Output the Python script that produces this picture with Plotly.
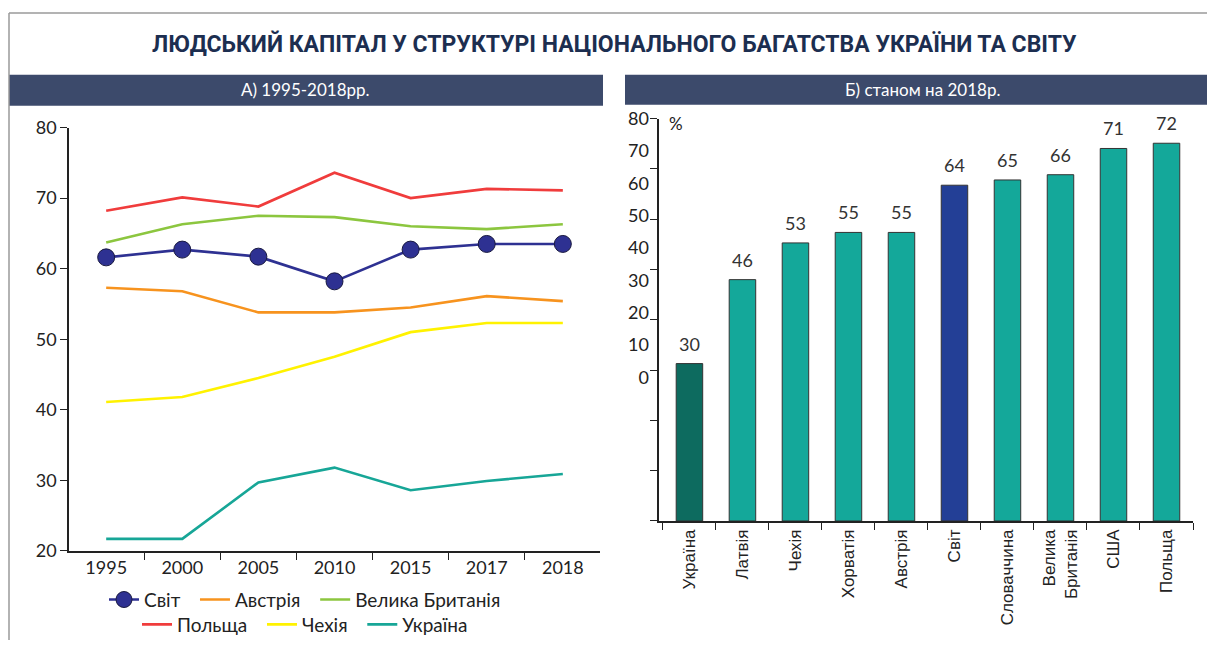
import plotly.graph_objects as go

# ---------------- data ----------------
years = ["1995", "2000", "2005", "2010", "2015", "2017", "2018"]
svit = [61.6, 62.7, 61.7, 58.2, 62.7, 63.5, 63.5]
austria = [57.3, 56.8, 53.8, 53.8, 54.5, 56.1, 55.4]
great_britain = [63.7, 66.3, 67.5, 67.3, 66.0, 65.6, 66.3]
poland = [68.2, 70.1, 68.8, 73.6, 70.0, 71.3, 71.1]
czechia = [41.1, 41.8, 44.5, 47.5, 51.0, 52.3, 52.3]
ukraine = [21.7, 21.7, 29.7, 31.8, 28.6, 29.9, 30.9]

countries = ["Україна", "Латвія", "Чехія", "Хорватія", "Австрія", "Світ",
             "Словаччина", "Велика<br>Британія", "США", "Польща"]
values_2018 = [30, 46, 53, 55, 55, 64, 65, 66, 71, 72]
right_tick_labels = ["0", "10", "20", "30", "40", "50", "60", "70", "80"]

# ---------------- style ----------------
W, H = 1207, 650
def fx(p):
    return p / W
def fy(p):
    # vertical position (target pixel) -> paper fraction, compensating capture offset
    q = (p - 10.0) / 0.97
    return min(1.0, max(0.0, 1 - q / H))

C_BAND = "#3C4A6B"
C_TITLE = "#1C2E50"
C_TEXT = "#222222"
TICK_FONT = dict(family="Lato, Open Sans, sans-serif", size=18, color=C_TEXT)
PAD = "\u00a0\u00a0"

fig = go.Figure()

series = [
    ("Польща" + PAD, poland, "#F03C3C", "legend2", 1),
    ("Велика Британія", great_britain, "#8CC63F", "legend", 3),
    ("Австрія" + PAD, austria, "#F7931E", "legend", 2),
    ("Чехія" + PAD, czechia, "#FFF200", "legend2", 2),
    ("Україна", ukraine, "#17A697", "legend2", 3),
]
for name, vals, col, leg, rank in series:
    fig.add_trace(go.Scatter(x=years, y=vals, name=name, mode="lines",
                             line=dict(color=col, width=2.6),
                             legend=leg, legendrank=rank,
                             xaxis="x", yaxis="y"))
fig.add_trace(go.Scatter(x=years, y=svit, name="Світ" + PAD, mode="lines+markers",
                         line=dict(color="#2E3192", width=2.6),
                         marker=dict(size=17, color="#2E3192",
                                     line=dict(color="#1A1A40", width=1)),
                         legend="legend", legendrank=1,
                         xaxis="x", yaxis="y"))

bar_colors = []
for c in countries:
    if c == "Україна":
        bar_colors.append("#0D6B5F")
    elif c == "Світ":
        bar_colors.append("#233F96")
    else:
        bar_colors.append("#14A89A")

fig.add_trace(go.Bar(x=countries, y=values_2018, marker=dict(color=bar_colors,
                     line=dict(color="#333333", width=1)),
                     width=0.5, showlegend=False, xaxis="x2", yaxis="y2"))
# invisible helper trace so that the label axis (y3) is drawn
fig.add_trace(go.Scatter(x=[countries[0]], y=[0], mode="markers",
                         marker=dict(opacity=0), showlegend=False,
                         hoverinfo="skip", xaxis="x2", yaxis="y3"))

annotations = []
for c, v in zip(countries, values_2018):
    annotations.append(dict(x=c, y=v, xref="x2", yref="y2", text=str(v),
                            showarrow=False, yanchor="bottom", yshift=7,
                            font=dict(family="Lato, sans-serif", size=18, color="#333333")))

# titles / headers
annotations.append(dict(x=fx(614), y=fy(42), xref="paper", yref="paper",
                        text="<b>ЛЮДСЬКИЙ КАПІТАЛ У СТРУКТУРІ НАЦІОНАЛЬНОГО БАГАТСТВА УКРАЇНИ ТА СВІТУ</b>",
                        showarrow=False, xanchor="center", yanchor="middle",
                        font=dict(family="Liberation Sans Narrow, Roboto, sans-serif", size=23, color=C_TITLE)))
annotations.append(dict(x=fx(305), y=fy(88), xref="paper", yref="paper",
                        text="А) 1995-2018рр.", showarrow=False,
                        xanchor="center", yanchor="middle",
                        font=dict(family="Lato, sans-serif", size=17, color="white")))
annotations.append(dict(x=fx(922), y=fy(88), xref="paper", yref="paper",
                        text="Б) станом на 2018р.", showarrow=False,
                        xanchor="center", yanchor="middle",
                        font=dict(family="Lato, sans-serif", size=17, color="white")))
annotations.append(dict(x=fx(667), y=fy(122), xref="paper", yref="paper",
                        text="%", showarrow=False, xanchor="left", yanchor="middle",
                        font=dict(family="Lato, sans-serif", size=17, color=C_TEXT)))

shapes = [
    dict(type="rect", xref="paper", yref="paper", x0=fx(9), x1=fx(603), y0=fy(104), y1=fy(73),
         fillcolor=C_BAND, line=dict(width=0), layer="below"),
    dict(type="rect", xref="paper", yref="paper", x0=fx(625), x1=fx(1207), y0=fy(103), y1=fy(73),
         fillcolor=C_BAND, line=dict(width=0), layer="below"),
    dict(type="line", xref="paper", yref="paper", x0=fx(9), x1=1, y0=fy(11), y1=fy(11),
         line=dict(color="#9A9A9A", width=1.5)),
    dict(type="line", xref="paper", yref="paper", x0=fx(9), x1=fx(9), y0=fy(11), y1=0,
         line=dict(color="#9A9A9A", width=1.5)),
]

axis_common = dict(showgrid=False, zeroline=False, showline=True, linecolor=C_TEXT,
                   linewidth=1.5, ticks="outside", ticklen=7, tickcolor=C_TEXT,
                   tickwidth=1.2)

right_top = 76.7

fig.update_layout(
    width=W, height=H, margin=dict(l=0, r=0, t=0, b=0),
    paper_bgcolor="white", plot_bgcolor="white",
    showlegend=True,
    xaxis=dict(domain=[fx(69), fx(600)], anchor="y", type="category",
               tickson="boundaries", tickfont=TICK_FONT, **axis_common),
    yaxis=dict(domain=[fy(551), fy(126)], anchor="x", range=[20, 80], dtick=10,
               tickfont=TICK_FONT, **axis_common),
    xaxis2=dict(domain=[fx(659), fx(1193)], anchor="y2", type="category",
                tickson="boundaries", tickangle=-90,
                tickfont=dict(family="Liberation Sans, Arial, sans-serif", size=17, color=C_TEXT),
                **axis_common),
    yaxis2=dict(domain=[fy(521), fy(117)], anchor="x2", range=[0, right_top],
                tick0=0, dtick=right_top / 8, showticklabels=False, **axis_common),
    yaxis3=dict(overlaying="y2", anchor="x2", side="left", range=[-44.3, 80],
                tickmode="array",
                tickvals=[int(t) for t in right_tick_labels], ticktext=right_tick_labels,
                showticklabels=True,
                showline=False, showgrid=False, zeroline=False, ticks="",
                ticklabelstandoff=9, tickfont=TICK_FONT),
    legend=dict(orientation="h", x=fx(305), y=fy(600), xanchor="center", yanchor="middle",
                font=dict(family="Lato, sans-serif", size=19, color=C_TEXT),
                bgcolor="rgba(0,0,0,0)"),
    legend2=dict(orientation="h", x=fx(305), y=fy(625), xanchor="center", yanchor="middle",
                 font=dict(family="Lato, sans-serif", size=19, color=C_TEXT),
                 bgcolor="rgba(0,0,0,0)"),
    annotations=annotations,
    shapes=shapes,
    bargap=0.5,
)

fig.write_html(
    "out.html",
    config={"displayModeBar": False},
    post_script=(
        "document.documentElement.style.overflow='hidden';"
        "document.body.style.margin='0';document.body.style.overflow='hidden';"
        "var d=document.getElementById('{plot_id}');"
        "d.style.position='fixed';d.style.top='0px';d.style.left='0px';"
    ),
)
